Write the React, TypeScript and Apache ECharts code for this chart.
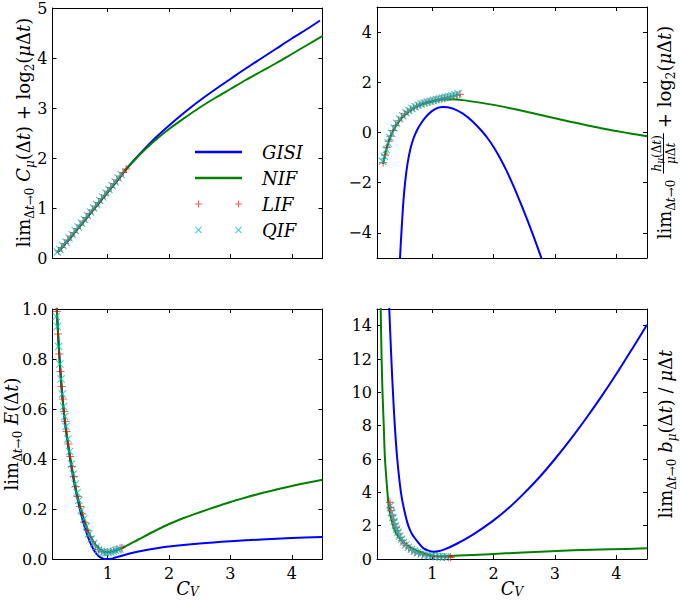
import React, { useEffect, useRef } from "react";
import * as echarts from "echarts";

// ---------- data ----------
const xTicks = [1, 2, 3, 4];
const tlYTicks = [0, 1, 2, 3, 4, 5];
const trYTicks = [-4, -2, 0, 2, 4];
const blYTicks = [0, 0.2, 0.4, 0.6, 0.8, 1.0];
const brYTicks = [0, 2, 4, 6, 8, 10, 12, 14];

// top-left: C_mu
const tlGISI = [[0.18,0.11],[0.4,0.42],[0.6,0.72],[0.8,1.02],[1.0,1.32],[1.2,1.62],[1.31,1.79],[1.5,2.05],[1.75,2.37],[2.0,2.65],[2.25,2.91],[2.5,3.15],[2.75,3.37],[3.0,3.58],[3.25,3.79],[3.5,3.99],[3.75,4.19],[4.0,4.39],[4.25,4.58],[4.46,4.75]];
const tlNIF = [[0.18,0.11],[0.4,0.42],[0.6,0.72],[0.8,1.02],[1.0,1.32],[1.2,1.62],[1.31,1.79],[1.5,2.04],[1.75,2.33],[2.0,2.58],[2.25,2.8],[2.5,3.01],[2.75,3.2],[3.0,3.38],[3.25,3.56],[3.5,3.73],[3.75,3.9],[4.0,4.08],[4.25,4.26],[4.5,4.44]];
const tlLIF = [[0.2,0.14],[0.25,0.21],[0.3,0.29],[0.35,0.36],[0.4,0.44],[0.45,0.51],[0.5,0.59],[0.55,0.66],[0.6,0.74],[0.65,0.81],[0.7,0.89],[0.75,0.96],[0.8,1.04],[0.85,1.11],[0.9,1.19],[0.95,1.26],[1.0,1.34],[1.05,1.41],[1.1,1.49],[1.15,1.56],[1.2,1.64],[1.25,1.71],[1.3,1.78]];
const tlQIF = [[0.18,0.12],[0.22,0.17],[0.27,0.25],[0.32,0.32],[0.37,0.4],[0.42,0.47],[0.47,0.55],[0.52,0.62],[0.57,0.7],[0.62,0.77],[0.67,0.85],[0.72,0.92],[0.77,1.0],[0.82,1.07],[0.87,1.15],[0.92,1.22],[0.97,1.3],[1.02,1.37],[1.07,1.45],[1.12,1.52],[1.17,1.6],[1.22,1.67]];

// top-right: h_mu
const trGISI = [[0.45,-6.5],[0.475,-5],[0.5,-3.9],[0.53,-2.75],[0.56,-1.95],[0.6,-1.2],[0.65,-0.6],[0.7,-0.2],[0.75,0.08],[0.8,0.3],[0.9,0.63],[1.0,0.86],[1.1,0.99],[1.17,1.02],[1.25,1.01],[1.35,0.94],[1.5,0.75],[1.67,0.41],[1.8,0.08],[1.9,-0.22],[2.0,-0.58],[2.1,-1.0],[2.21,-1.52],[2.3,-2.0],[2.4,-2.57],[2.54,-3.42],[2.65,-4.13],[2.8,-5.15],[2.9,-5.9]];
const trNIF = [[0.2,-1.25],[0.25,-0.7],[0.3,-0.3],[0.35,0.0],[0.4,0.23],[0.5,0.57],[0.6,0.8],[0.7,0.96],[0.8,1.08],[0.9,1.17],[1.0,1.23],[1.1,1.28],[1.2,1.31],[1.3,1.32],[1.5,1.29],[1.75,1.2],[2.0,1.1],[2.25,0.98],[2.5,0.85],[2.75,0.71],[3.0,0.57],[3.25,0.43],[3.5,0.3],[3.75,0.17],[4.0,0.06],[4.25,-0.05],[4.5,-0.15]];
const trLIF = [[0.2,-1.2],[0.23,-0.9],[0.26,-0.6],[0.29,-0.35],[0.32,-0.15],[0.36,0.08],[0.4,0.28],[0.45,0.47],[0.5,0.62],[0.55,0.74],[0.6,0.84],[0.65,0.93],[0.7,1.0],[0.75,1.06],[0.8,1.12],[0.85,1.16],[0.9,1.2],[0.95,1.23],[1.0,1.26],[1.05,1.29],[1.1,1.32],[1.15,1.35],[1.2,1.37],[1.25,1.4],[1.3,1.42],[1.35,1.45],[1.4,1.48],[1.45,1.52]];
const trQIF = [[0.19,-1.15],[0.22,-0.95],[0.25,-0.68],[0.28,-0.42],[0.31,-0.2],[0.34,-0.03],[0.38,0.18],[0.42,0.37],[0.47,0.54],[0.52,0.67],[0.57,0.79],[0.62,0.88],[0.67,0.96],[0.72,1.03],[0.77,1.09],[0.82,1.14],[0.87,1.18],[0.92,1.22],[0.97,1.25],[1.02,1.28],[1.07,1.31],[1.12,1.34],[1.17,1.37],[1.22,1.4],[1.27,1.43],[1.32,1.46],[1.37,1.5],[1.42,1.54]];

// bottom-left: E
const blGISI = [[0.16,1.05],[0.17,1.0],[0.2,0.86],[0.25,0.68],[0.3,0.55],[0.35,0.46],[0.4,0.38],[0.45,0.31],[0.5,0.25],[0.55,0.195],[0.6,0.148],[0.65,0.108],[0.7,0.074],[0.75,0.047],[0.8,0.026],[0.85,0.012],[0.9,0.004],[0.95,0.0],[1.0,0.0],[1.05,0.001],[1.1,0.004],[1.2,0.011],[1.3,0.018],[1.5,0.03],[1.75,0.041],[2.0,0.05],[2.5,0.062],[3.0,0.071],[3.5,0.078],[4.0,0.084],[4.5,0.088]];
const blNIF = [[0.16,1.05],[0.17,1.0],[0.2,0.86],[0.25,0.68],[0.3,0.56],[0.35,0.47],[0.4,0.39],[0.45,0.32],[0.5,0.26],[0.55,0.21],[0.6,0.17],[0.7,0.1],[0.8,0.058],[0.9,0.034],[1.0,0.027],[1.1,0.031],[1.23,0.043],[1.5,0.078],[1.75,0.11],[2.0,0.14],[2.25,0.165],[2.5,0.187],[2.75,0.208],[3.0,0.228],[3.25,0.246],[3.5,0.263],[3.75,0.278],[4.0,0.292],[4.25,0.305],[4.5,0.317]];
const blLIF = [[0.17,0.99],[0.19,0.9],[0.21,0.82],[0.23,0.75],[0.25,0.69],[0.27,0.64],[0.29,0.59],[0.31,0.55],[0.33,0.51],[0.36,0.46],[0.39,0.41],[0.42,0.37],[0.45,0.33],[0.48,0.29],[0.51,0.25],[0.55,0.21],[0.59,0.18],[0.63,0.145],[0.67,0.115],[0.71,0.09],[0.75,0.07],[0.8,0.052],[0.85,0.038],[0.9,0.03],[0.95,0.027],[1.0,0.027],[1.05,0.03],[1.1,0.034],[1.15,0.038],[1.2,0.042],[1.23,0.045]];
const blQIF = [[0.16,0.97],[0.18,0.93],[0.2,0.85],[0.22,0.78],[0.24,0.72],[0.26,0.66],[0.28,0.61],[0.3,0.57],[0.32,0.53],[0.35,0.48],[0.38,0.43],[0.41,0.38],[0.44,0.34],[0.47,0.3],[0.5,0.265],[0.53,0.235],[0.57,0.195],[0.61,0.16],[0.65,0.13],[0.69,0.1],[0.73,0.08],[0.77,0.062],[0.81,0.048],[0.85,0.038],[0.89,0.031],[0.93,0.027],[0.97,0.025],[1.01,0.026],[1.05,0.028],[1.09,0.031],[1.13,0.034],[1.17,0.037],[1.2,0.04]];

// bottom-right: b_mu
const brGISI = [[0.29,16.2],[0.3,15],[0.32,13.2],[0.34,11.5],[0.36,10],[0.39,8.0],[0.43,6.0],[0.49,4.0],[0.54,3.0],[0.61,2.0],[0.67,1.5],[0.77,1.0],[0.86,0.64],[0.95,0.49],[1.02,0.44],[1.1,0.47],[1.2,0.575],[1.4,0.915],[1.67,1.48],[2.0,2.32],[2.25,3.07],[2.5,3.95],[2.75,4.92],[3.0,6.0],[3.25,7.16],[3.5,8.4],[3.75,9.71],[4.0,11.1],[4.25,12.56],[4.5,14.05]];
const brNIF = [[0.15,17],[0.16,15],[0.175,12],[0.19,10],[0.21,8],[0.23,6],[0.27,4],[0.29,3.2],[0.32,2.6],[0.365,2.0],[0.42,1.5],[0.53,1.0],[0.62,0.75],[0.75,0.5],[0.9,0.3],[1.0,0.21],[1.1,0.17],[1.3,0.18],[1.67,0.24],[2.2,0.34],[2.76,0.44],[3.3,0.52],[3.9,0.58],[4.5,0.64]];
const brLIF = [[0.31,3.4],[0.32,3.1],[0.33,2.9],[0.35,2.6],[0.37,2.35],[0.39,2.1],[0.41,1.9],[0.43,1.7],[0.45,1.5],[0.48,1.3],[0.51,1.1],[0.54,0.95],[0.58,0.8],[0.62,0.66],[0.67,0.53],[0.72,0.42],[0.78,0.34],[0.84,0.27],[0.9,0.22],[0.96,0.18],[1.02,0.16],[1.08,0.14],[1.14,0.13],[1.2,0.12],[1.26,0.11],[1.3,0.1]];
const brQIF = [[0.32,3.2],[0.34,2.8],[0.36,2.5],[0.38,2.25],[0.4,2.0],[0.42,1.8],[0.44,1.6],[0.47,1.38],[0.5,1.18],[0.53,1.0],[0.57,0.84],[0.61,0.7],[0.66,0.57],[0.71,0.46],[0.76,0.38],[0.82,0.3],[0.88,0.24],[0.94,0.2],[1.0,0.17],[1.06,0.15],[1.12,0.14],[1.18,0.13],[1.24,0.12]];

const seriesNames = ["GISI", "NIF", "LIF", "QIF"];

// ---------- styling ----------
const FF = "DejaVu Serif";
const BLUE = "#0000ff";
const GREEN = "#008000";
const RED = "#ff0000";
const CYAN = "#00bfbf";
const PLUS = "path://M4.3,0H5.7V4.3H10V5.7H5.7V10H4.3V5.7H0V4.3H4.3Z";
const CROSS = "path://M0,1L1,0L5,4L9,0L10,1L6,5L10,9L9,10L5,6L1,10L0,9L4,5Z";
const ICON_LINE = "path://M0,0H47V2.5H0Z";
const ICON_PLUS = "path://M3,0H4V3H7V4H4V7H3V4H0V3H3Z M43,0H44V3H47V4H44V7H43V4H40V3H43Z";
const ICON_CROSS = "path://M0,0.7L0.7,0L3.5,2.8L6.3,0L7,0.7L4.2,3.5L7,6.3L6.3,7L3.5,4.2L0.7,7L0,6.3L2.8,3.5Z M40,0.7L40.7,0L43.5,2.8L46.3,0L47,0.7L44.2,3.5L47,6.3L46.3,7L43.5,4.2L40.7,7L40,6.3L42.8,3.5Z";

const minus = (v: number) => String(v).replace("-", "\u2212");

const panels = [
  { left: 52.5, top: 7, width: 270, height: 251, ymin: 0, ymax: 5, yTicks: tlYTicks, xLabels: false, fmt: (v: number) => minus(v), data: [tlGISI, tlNIF, tlLIF, tlQIF] },
  { left: 377, top: 7, width: 270, height: 251, ymin: -5, ymax: 5, yTicks: trYTicks, xLabels: false, fmt: (v: number) => minus(v), data: [trGISI, trNIF, trLIF, trQIF] },
  { left: 52.5, top: 309, width: 270, height: 250, ymin: 0, ymax: 1, yTicks: blYTicks, xLabels: true, fmt: (v: number) => v.toFixed(1), data: [blGISI, blNIF, blLIF, blQIF] },
  { left: 377, top: 309, width: 270, height: 250, ymin: 0, ymax: 15, yTicks: brYTicks, xLabels: true, fmt: (v: number) => minus(v), data: [brGISI, brNIF, brLIF, brQIF] },
];

const tickFont = { fontFamily: FF, fontSize: 16, color: "#000" };

const rich: any = {
  r: { fontFamily: FF, fontSize: 18, lineHeight: 26, fill: "#000" },
  i: { fontFamily: FF, fontSize: 18, lineHeight: 26, fontStyle: "italic", fill: "#000" },
  sr: { fontFamily: FF, fontSize: 12, lineHeight: 13, verticalAlign: "bottom", fill: "#000" },
  si: { fontFamily: FF, fontSize: 12, lineHeight: 13, verticalAlign: "bottom", fontStyle: "italic", fill: "#000" },
  r14: { fontFamily: FF, fontSize: 12, lineHeight: 16, fill: "#000" },
  i14: { fontFamily: FF, fontSize: 12, lineHeight: 16, fontStyle: "italic", fill: "#000" },
  si10: { fontFamily: FF, fontSize: 9, lineHeight: 9, verticalAlign: "bottom", fontStyle: "italic", fill: "#000" },
  ci: { fontFamily: FF, fontSize: 18, lineHeight: 20, fontStyle: "italic", fill: "#000" },
  csi: { fontFamily: FF, fontSize: 12, lineHeight: 11, verticalAlign: "bottom", fontStyle: "italic", fill: "#000" },
};

type Tok = [string, string];
const rt = (toks: Tok[]) => toks.map(([s, t]) => `{${s}|${t}}`).join("");

const limToks: Tok[] = [["r", "lim"], ["sr", "\u0394"], ["si", "t"], ["sr", "\u21920"]];
const tlLabel: Tok[] = [...limToks, ["r", " "], ["i", "C"], ["si", "\u03bc"], ["r", "(\u0394"], ["i", "t"], ["r", ") + log"], ["sr", "2"], ["r", "("], ["i", "\u03bc"], ["r", "\u0394"], ["i", "t"], ["r", ")"]];
const blLabel: Tok[] = [...limToks, ["r", " "], ["i", "E"], ["r", "(\u0394"], ["i", "t"], ["r", ")"]];
const brLabel: Tok[] = [...limToks, ["r", " "], ["i", "b"], ["si", "\u03bc"], ["r", "(\u0394"], ["i", "t"], ["r", ") / "], ["i", "\u03bc"], ["r", "\u0394"], ["i", "t"]];
const numToks: Tok[] = [["i14", "h"], ["si10", "\u03bc"], ["r14", "(\u0394"], ["i14", "t"], ["r14", ")"]];
const denToks: Tok[] = [["i14", "\u03bc"], ["r14", "\u0394"], ["i14", "t"]];
const trTail: Tok[] = [["r", "+ log"], ["sr", "2"], ["r", "("], ["i", "\u03bc"], ["r", "\u0394"], ["i", "t"], ["r", ")"]];
const cvToks: Tok[] = [["ci", "C"], ["csi", "V"]];

function measure(toks: Tok[]): number {
  const ctx = document.createElement("canvas").getContext("2d");
  if (!ctx) return toks.reduce((a, [, t]) => a + t.length * 9, 0);
  let w = 0;
  for (const [s, t] of toks) {
    const st = rich[s];
    ctx.font = `${st.fontStyle === "italic" ? "italic " : ""}${st.fontSize}px ${FF}`;
    w += ctx.measureText(t).width;
  }
  return w;
}

function buildOption(): any {
  const xAxis: any[] = [];
  const yAxis: any[] = [];
  const series: any[] = [];
  const axisLine = { show: true, onZero: false, lineStyle: { color: "#000", width: 1 } };
  panels.forEach((p, i) => {
    ["bottom", "top"].forEach((pos, k) => {
      xAxis.push({
        type: "value", gridIndex: i, position: pos, min: 0.1, max: 4.5,
        axisLine,
        axisTick: { show: true, inside: true, length: 4, customValues: xTicks, lineStyle: { color: "#000" } },
        axisLabel: { show: k === 0 && p.xLabels, customValues: xTicks, margin: 6, ...tickFont },
        splitLine: { show: false },
      });
    });
    ["left", "right"].forEach((pos, k) => {
      yAxis.push({
        type: "value", gridIndex: i, position: pos, min: p.ymin, max: p.ymax,
        axisLine,
        axisTick: { show: true, inside: true, length: 4, customValues: p.yTicks, lineStyle: { color: "#000" } },
        axisLabel: { show: k === 0, customValues: p.yTicks, margin: 5, formatter: p.fmt, ...tickFont },
        splitLine: { show: false },
      });
    });
    const xi = 2 * i;
    series.push({ type: "line", name: "GISI", xAxisIndex: xi, yAxisIndex: xi, data: p.data[0], symbol: "none", smooth: 0.3, clip: true, lineStyle: { color: BLUE, width: 2 }, itemStyle: { color: BLUE }, z: 2 });
    series.push({ type: "line", name: "NIF", xAxisIndex: xi, yAxisIndex: xi, data: p.data[1], symbol: "none", smooth: 0.3, clip: true, lineStyle: { color: GREEN, width: 2 }, itemStyle: { color: GREEN }, z: 2 });
    series.push({ type: "scatter", name: "LIF", xAxisIndex: xi, yAxisIndex: xi, data: p.data[2], symbol: PLUS, symbolSize: 8, clip: true, itemStyle: { color: RED, opacity: 0.65 }, z: 3 });
    series.push({ type: "scatter", name: "QIF", xAxisIndex: xi, yAxisIndex: xi, data: p.data[3], symbol: CROSS, symbolSize: 8, clip: true, itemStyle: { color: CYAN, opacity: 0.75 }, z: 4 });
  });

  // top-right label with fraction
  const w1 = measure(limToks);
  const wn = measure(numToks);
  const wd = measure(denToks);
  const wf = Math.max(wn, wd) + 4;
  const w3 = measure(trTail);
  const g1 = 6, g2 = 5;
  const total = w1 + g1 + wf + g2 + w3;
  const x0 = -total / 2;
  const fx = x0 + w1 + g1;

  const ylab = (toks: Tok[], x: number, y: number) => ({
    type: "text", x, y, rotation: Math.PI / 2,
    style: { text: rt(toks), rich, align: "center", verticalAlign: "middle" },
  });

  const graphic: any[] = [
    ylab(tlLabel, 23, 132.5),
    ylab(blLabel, 11, 434),
    ylab(brLabel, 665, 434),
    {
      type: "group", x: 664, y: 132.5, rotation: Math.PI / 2,
      children: [
        { type: "text", x: x0, y: 0, style: { text: rt(limToks), rich, align: "left", verticalAlign: "middle" } },
        { type: "text", x: fx + wf / 2, y: -7.5, style: { text: rt(numToks), rich, align: "center", verticalAlign: "middle" } },
        { type: "line", shape: { x1: fx, y1: -0.5, x2: fx + wf, y2: -0.5 }, style: { stroke: "#000", lineWidth: 1 } },
        { type: "text", x: fx + wf / 2, y: 7, style: { text: rt(denToks), rich, align: "center", verticalAlign: "middle" } },
        { type: "text", x: fx + wf + g2, y: 0, style: { text: rt(trTail), rich, align: "left", verticalAlign: "middle" } },
      ],
    },
    { type: "text", x: 187.5, y: 588, style: { text: rt(cvToks), rich, align: "center", verticalAlign: "middle" } },
    { type: "text", x: 512, y: 588, style: { text: rt(cvToks), rich, align: "center", verticalAlign: "middle" } },
  ];

  return {
    animation: false,
    backgroundColor: "#fff",
    grid: panels.map((p) => ({ left: p.left, top: p.top, width: p.width, height: p.height })),
    xAxis, yAxis, series, graphic,
    legend: {
      show: true, orient: "vertical", left: 190, top: 137, padding: 5,
      itemWidth: 47, itemHeight: 10, itemGap: 6, selectedMode: false,
      data: [
        { name: seriesNames[0], icon: ICON_LINE },
        { name: seriesNames[1], icon: ICON_LINE },
        { name: seriesNames[2], icon: ICON_PLUS },
        { name: seriesNames[3], icon: ICON_CROSS },
      ],
      textStyle: { fontFamily: FF, fontStyle: "italic", fontSize: 18, lineHeight: 20, color: "#000", padding: [0, 0, 0, 15] },
    },
  };
}

export default function App() {
  const ref = useRef<HTMLDivElement>(null);
  useEffect(() => {
    document.body.style.margin = "0";
    if (!ref.current) return;
    const chart = echarts.init(ref.current, null, { renderer: "svg" });
    chart.setOption(buildOption());
    return () => chart.dispose();
  }, []);
  return <div ref={ref} style={{ width: 680, height: 600 }} />;
}
